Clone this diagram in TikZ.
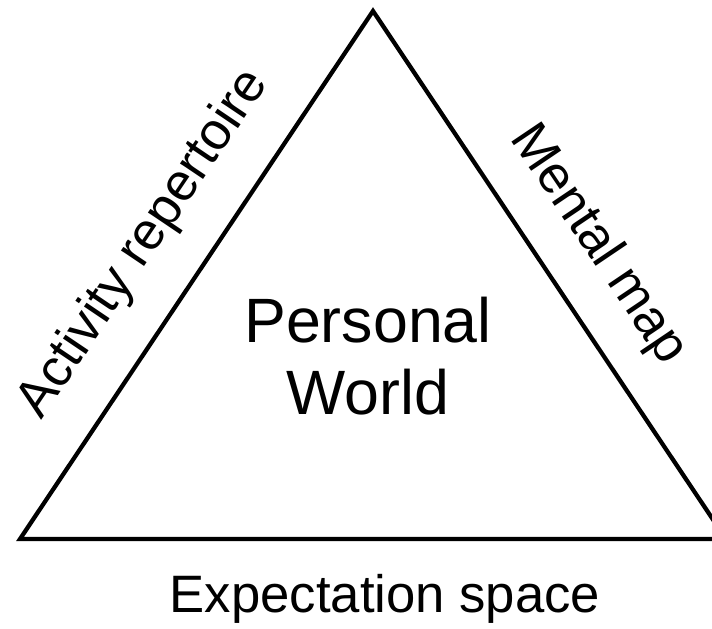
\documentclass[tikz,border=0pt]{standalone}
\usepackage{fontspec}
\setmainfont{Liberation Sans}
\begin{document}
\begin{tikzpicture}[x=0.75pt,y=-0.75pt,
  side/.style={line width=3.2pt,line join=miter},
  sidelabel/.style={font=\fontsize{39.5}{47}\selectfont,inner sep=0pt},
  centrelabel/.style={font=\fontsize{47}{53.5}\selectfont,align=center,inner sep=0pt}]
  \useasboundingbox (0,0) rectangle (712,628);
  \clip (0,0) rectangle (712,628);
  % corners of the triangle
  \coordinate (top) at (373,11);
  \coordinate (bl) at (20,539);
  \coordinate (br) at (726,539);
  \draw[side] (top) -- (bl) -- (br) -- cycle;
  % labels
  \node[centrelabel] (world) at (368,356) {Personal\\World};
  \node[sidelabel,rotate=56] (activity) at (144,244) {Activity repertoire};
  \node[sidelabel,rotate=-56] (mental) at (598,245) {Mental map};
  \node[sidelabel] (expect) at (385,599) {Expectation space};
\end{tikzpicture}
\end{document}
